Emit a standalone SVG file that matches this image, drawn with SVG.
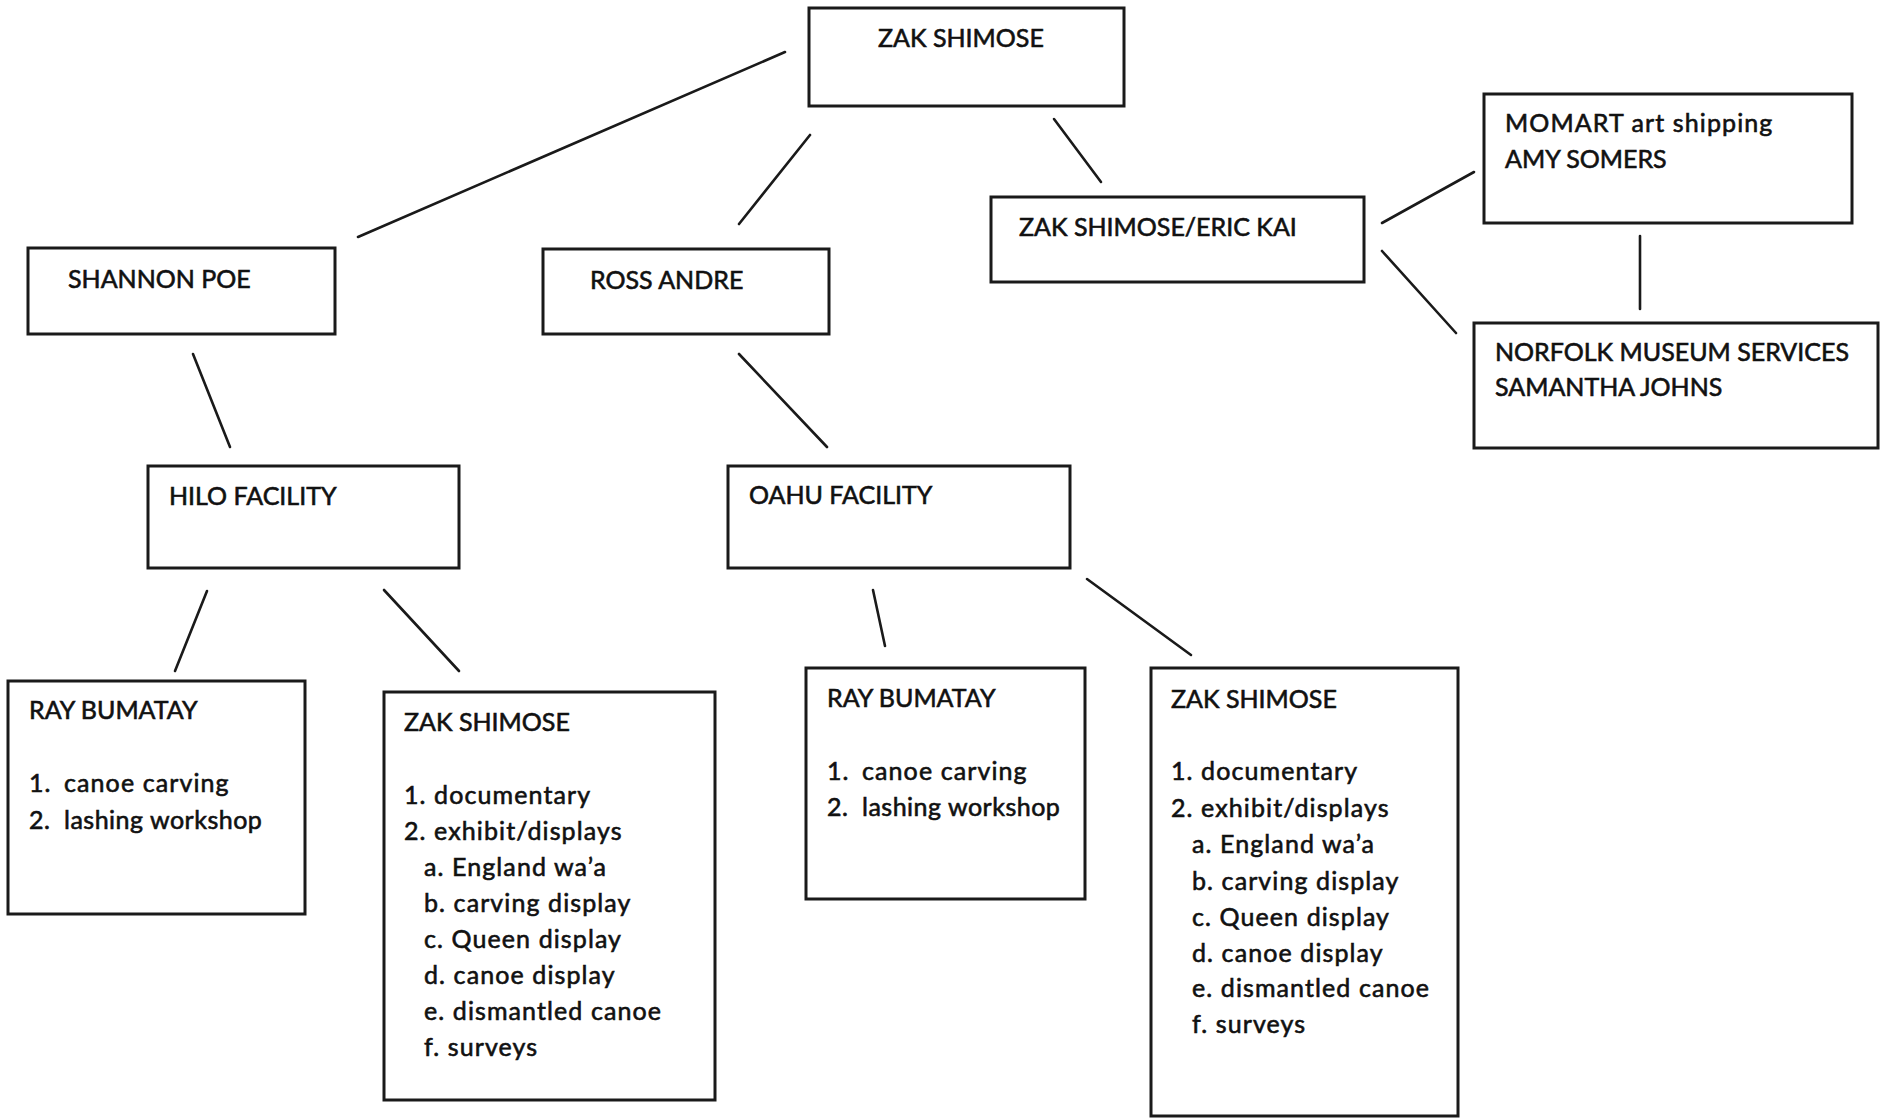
<svg xmlns="http://www.w3.org/2000/svg" width="1880" height="1118" viewBox="0 0 1880 1118">
<style>
.box{fill:#fff;stroke:#1a1a1a;stroke-width:3}
.ln{stroke:#1a1a1a;stroke-width:2.6;stroke-linecap:round}
text{font-family:Lato,"Open Sans","Liberation Sans",sans-serif;font-size:25px;fill:#111;stroke:#111;stroke-width:0.6}
.lc{letter-spacing:1.1px}
.lc2{letter-spacing:0.5px}
</style>
<rect width="1880" height="1118" fill="#fff"/>
<g id="connectors">
<line class="ln" x1="785" y1="52" x2="358" y2="237"/>
<line class="ln" x1="810" y1="135" x2="739" y2="224"/>
<line class="ln" x1="1054" y1="119" x2="1101" y2="182"/>
<line class="ln" x1="1382" y1="223" x2="1474" y2="172"/>
<line class="ln" x1="1382" y1="251" x2="1456" y2="333"/>
<line class="ln" x1="1640" y1="236" x2="1640" y2="309"/>
<line class="ln" x1="193" y1="354" x2="230" y2="447"/>
<line class="ln" x1="739" y1="354" x2="827" y2="447"/>
<line class="ln" x1="207" y1="591" x2="175" y2="671"/>
<line class="ln" x1="384" y1="590" x2="459" y2="671"/>
<line class="ln" x1="873" y1="590" x2="885" y2="646"/>
<line class="ln" x1="1087" y1="579" x2="1191" y2="655"/>
</g>
<g id="n-top">
<rect class="box" x="809" y="8" width="315" height="98"/>
<text x="878" y="47">ZAK SHIMOSE</text>
</g>
<g id="n-shannon">
<rect class="box" x="28" y="248" width="307" height="86"/>
<text x="68" y="288">SHANNON POE</text>
</g>
<g id="n-ross">
<rect class="box" x="543" y="249" width="286" height="85"/>
<text x="590" y="289">ROSS ANDRE</text>
</g>
<g id="n-eric">
<rect class="box" x="991" y="197" width="373" height="85"/>
<text x="1019" y="236">ZAK SHIMOSE/ERIC KAI</text>
</g>
<g id="n-momart">
<rect class="box" x="1484" y="94" width="368" height="129"/>
<text class="lc" x="1505" y="132">MOMART art shipping</text>
<text x="1505" y="168">AMY SOMERS</text>
</g>
<g id="n-norfolk">
<rect class="box" x="1474" y="323" width="404" height="125"/>
<text x="1495" y="361">NORFOLK MUSEUM SERVICES</text>
<text x="1495" y="396">SAMANTHA JOHNS</text>
</g>
<g id="n-hilo">
<rect class="box" x="148" y="466" width="311" height="102"/>
<text x="169" y="505">HILO FACILITY</text>
</g>
<g id="n-oahu">
<rect class="box" x="728" y="466" width="342" height="102"/>
<text x="749" y="504">OAHU FACILITY</text>
</g>
<g id="n-ray1">
<rect class="box" x="8" y="681" width="297" height="233"/>
<text x="29" y="719">RAY BUMATAY</text>
<text class="lc" x="29" y="792">1.<tspan x="64">canoe carving</tspan></text>
<text class="lc2" x="29" y="829">2.<tspan x="64">lashing workshop</tspan></text>
</g>
<g id="n-zak2">
<rect class="box" x="384" y="692" width="331" height="408"/>
<text x="404" y="731">ZAK SHIMOSE</text>
<text class="lc" x="404" y="804">1. documentary</text>
<text class="lc" x="404" y="840">2. exhibit/displays</text>
<text class="lc" x="424" y="876">a. England wa’a</text>
<text class="lc" x="424" y="912">b. carving display</text>
<text class="lc" x="424" y="948">c. Queen display</text>
<text class="lc" x="424" y="984">d. canoe display</text>
<text class="lc" x="424" y="1020">e. dismantled canoe</text>
<text class="lc" x="424" y="1056">f. surveys</text>
</g>
<g id="n-ray2">
<rect class="box" x="806" y="668" width="279" height="231"/>
<text x="827" y="707">RAY BUMATAY</text>
<text class="lc" x="827" y="780">1.<tspan x="862">canoe carving</tspan></text>
<text class="lc2" x="827" y="816">2.<tspan x="862">lashing workshop</tspan></text>
</g>
<g id="n-zak3">
<rect class="box" x="1151" y="668" width="307" height="448"/>
<text x="1171" y="708">ZAK SHIMOSE</text>
<text class="lc" x="1171" y="780">1. documentary</text>
<text class="lc" x="1171" y="817">2. exhibit/displays</text>
<text class="lc" x="1192" y="853">a. England wa’a</text>
<text class="lc" x="1192" y="890">b. carving display</text>
<text class="lc" x="1192" y="926">c. Queen display</text>
<text class="lc" x="1192" y="962">d. canoe display</text>
<text class="lc" x="1192" y="997">e. dismantled canoe</text>
<text class="lc" x="1192" y="1033">f. surveys</text>
</g>
</svg>
